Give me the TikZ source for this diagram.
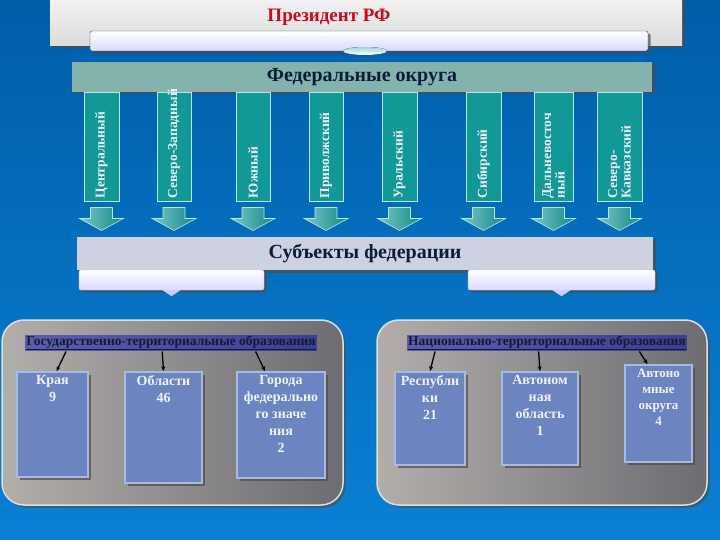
\documentclass[tikz,border=0pt]{standalone}
\usepackage{fontspec}
\setmainfont{Liberation Serif}
\usepackage{tikz}
\usetikzlibrary{shadows, calc, positioning, arrows.meta}

\definecolor{bgtop}{RGB}{0,94,170}
\definecolor{bgbot}{RGB}{10,128,212}
\definecolor{presred}{RGB}{200,10,30}
\definecolor{fedteal}{RGB}{132,178,172}
\definecolor{navytext}{RGB}{10,30,60}
\definecolor{colteal}{RGB}{18,152,150}
\definecolor{colline}{RGB}{180,232,228}
\definecolor{subgray}{RGB}{206,210,224}
\definecolor{panlight}{RGB}{178,174,170}
\definecolor{pandark}{RGB}{108,108,114}
\definecolor{boxblue}{RGB}{108,132,192}
\definecolor{boxline}{RGB}{168,186,226}
\definecolor{boxtext}{RGB}{240,242,250}

\begin{document}
\begin{tikzpicture}[x=1pt, y=-1pt,
    shadowed/.style={drop shadow={shadow xshift=2.5pt, shadow yshift=-2.5pt, fill=black!70, opacity=0.7}},
    bar/.style={shadowed, rectangle, inner sep=0pt, font=\fontsize{20}{22}\selectfont\bfseries, text=navytext},
    strip/.style={shadowed, rectangle, rounded corners=2pt, top color=white, bottom color=black!10!blue!15, draw=black!20, minimum height=20pt},
    column/.style={rectangle, fill=colteal, draw=colline, line width=1pt, minimum height=109pt},
    collabel/.style={rotate=90, anchor=west, align=left, inner sep=1pt, text=boxtext, font=\fontsize{13.5}{13.5}\selectfont\bfseries},
    blockarrow/.style={left color=colteal!55!white, right color=colteal!90!black, draw=colline, line width=0.6pt},
    panel/.style={shadowed, rectangle, rounded corners=22pt, left color=panlight, right color=pandark, draw=white!75!gray, line width=1.5pt},
    ptitle/.style={inner sep=1pt, text=navytext, fill=blue!70!black, fill opacity=0.45, text opacity=1, font=\fontsize{13.5}{15}\selectfont\bfseries},
    regbox/.style={shadowed, rectangle, fill=boxblue, draw=boxline, line width=1.5pt},
    boxtxt/.style={anchor=north, align=center, inner sep=4pt, text=boxtext, font=\fontsize{14}{17}\selectfont\bfseries},
    pointer/.style={-{Stealth[length=5pt, width=4pt]}, line width=1.3pt, black}
]
    \useasboundingbox (0,0) rectangle (720,540);
    \clip (0,0) rectangle (720,540);
    \shade[top color=bgtop, bottom color=bgbot] (0,0) rectangle (720,540);

    % top block
    \node[shadowed, rectangle, top color=white!96!black, bottom color=black!14, minimum width=632pt, minimum height=52pt] (presbox) at (366,20) {};
    \node[text=presred, font=\fontsize{19}{21}\selectfont\bfseries] (president) at (329,17) {Президент РФ};
    \node[strip, minimum width=558pt, draw=teal!60!black] (presstrip) at (369,41) {};
    \fill[top color=colteal!40, bottom color=white] (365,51) ellipse (22pt and 4pt);

    % federal districts
    \node[bar, fill=fedteal, minimum width=580pt, minimum height=30pt] (fedbar) at (362,77) {Федеральные округа};

    \foreach \cx/\w/\name/\txt in {101.5/35/c1/Центральный, 174/34/c2/Северо-Западный, 253/34/c3/Южный, 326/34/c4/Приволжский, 399.5/35/c5/Уральский, 483.5/35/c6/Сибирский, 553.5/39/c7/{Дальневосточ\\ный}, 619.5/45/c8/{Северо-\\Кавказский}} {
        \node[column, minimum width=\w pt] (\name) at (\cx,147.5) {};
        \node[collabel] (\name lbl) at ([yshift=3pt]\name.south) {\txt};
        \draw[blockarrow] ([yshift=-5pt]\name.south) ++(-11,0) -- ++(0,11) -- ++(-11,0) -- ++(22,12) -- ++(22,-12) -- ++(-11,0) -- ++(0,-11) -- cycle;
    }

    % subjects
    \node[bar, fill=subgray, minimum width=576pt, minimum height=33pt] (subbar) at (365,253.5) {Субъекты федерации};
    \node[strip, minimum width=185pt] (lstrip) at (171.5,280) {};
    \node[strip, minimum width=187pt] (rstrip) at (561.5,280) {};
    \fill[white!80!blue] ([xshift=-9pt]lstrip.south) -- ([xshift=9pt]lstrip.south) -- ++(-9,6) -- cycle;
    \fill[white!80!blue] ([xshift=-9pt]rstrip.south) -- ([xshift=9pt]rstrip.south) -- ++(-9,6) -- cycle;

    % state-territorial
    \node[panel, minimum width=341pt, minimum height=185pt] (gpanel) at (172.5,412.5) {};
    \node[ptitle] (gtitle) at (171,343) {\underline{Государственно-территориальные образования}};
    \node[regbox, minimum width=71pt, minimum height=105pt] (kraya) at (52.5,424.5) {};
    \node[regbox, minimum width=77pt, minimum height=111pt] (oblasti) at (163.5,427.5) {};
    \node[regbox, minimum width=88pt, minimum height=106pt] (goroda) at (281,425) {};
    \node[boxtxt] (krayatxt) at (kraya.north) {Края\\9};
    \node[boxtxt] (oblastitxt) at (oblasti.north) {Области\\46};
    \node[boxtxt] (gorodatxt) at (goroda.north) {Города\\федерально\\го значе\\ния\\2};

    \draw[pointer] ($(gtitle.south west)!0.14!(gtitle.south east)$) -- ([xshift=4pt]kraya.north);
    \draw[pointer] ($(gtitle.south west)!0.47!(gtitle.south east)$) -- (oblasti.north);
    \draw[pointer] ($(gtitle.south west)!0.79!(gtitle.south east)$) -- ([xshift=-16pt]goroda.north);

    % national-territorial
    \node[panel, minimum width=330pt, minimum height=185pt] (npanel) at (542,412.5) {};
    \node[ptitle] (ntitle) at (547,343) {\underline{Национально-территориальные образования}};
    \node[regbox, minimum width=70pt, minimum height=93pt] (resp) at (430,418.5) {};
    \node[regbox, minimum width=76pt, minimum height=93pt] (aobl) at (540,418.5) {};
    \node[regbox, minimum width=67pt, minimum height=97pt] (aokr) at (658.5,413.5) {};
    \node[boxtxt] (resptxt) at (resp.north) {Республи\\ки\\21};
    \node[boxtxt] (aobltxt) at (aobl.north) {Автоном\\ная\\область\\1};
    \node[boxtxt, font=\fontsize{13}{16}\selectfont\bfseries] (aokrtxt) at (aokr.north) {Автоно\\мные\\округа\\4};

    \draw[pointer] ($(ntitle.south west)!0.10!(ntitle.south east)$) -- (resp.north);
    \draw[pointer] ($(ntitle.south west)!0.47!(ntitle.south east)$) -- (aobl.north);
    \draw[pointer] ($(ntitle.south west)!0.83!(ntitle.south east)$) -- ([xshift=-11pt]aokr.north);
\end{tikzpicture}
\end{document}
